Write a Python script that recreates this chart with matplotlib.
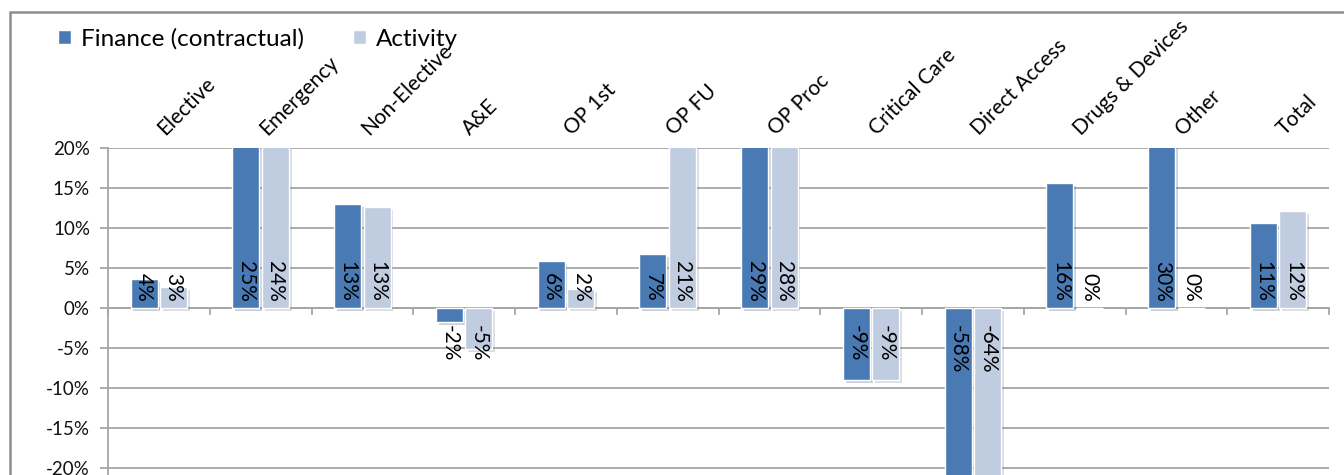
import matplotlib.pyplot as plt
import matplotlib.patheffects as pe
from matplotlib.patches import Rectangle
import numpy as np

plt.rcParams['font.family'] = ['Lato', 'DejaVu Sans']

# Variance by point of delivery, % change
categories = ['Elective', 'Emergency', 'Non-Elective', 'A&E', 'OP 1st', 'OP FU',
              'OP Proc', 'Critical Care', 'Direct Access', 'Drugs & Devices', 'Other', 'Total']
finance = [3.6, 25.0, 13.0, -1.8, 5.8, 6.7, 29.0, -9.0, -58.0, 15.6, 30.0, 10.6]
activity = [2.6, 24.0, 12.6, -5.2, 2.3, 21.0, 28.0, -9.0, -64.0, 0.0, 0.0, 12.1]
yticks = [-20, -15, -10, -5, 0, 5, 10, 15, 20]

finance_col = '#4a7ab4'
activity_col = '#c0cce0'
grid_col = '#a6a6a6'

fig = plt.figure(figsize=(13.44, 4.75), dpi=100)

# chart frame (left and top edges show)
fig.patches.append(Rectangle((10 / 1344, -0.1), 1.2, 1.1 - 12 / 475,
                             transform=fig.transFigure, fill=False,
                             edgecolor='#8c8c8c', linewidth=1.8))

ax = fig.add_axes([108 / 1344, 0.0, (1329 - 108) / 1344, 327.2 / 475])

x = np.arange(len(categories))
w = 0.265
shadow = [pe.SimplePatchShadow(offset=(2, -2), alpha=0.25, rho=0.6), pe.Normal()]

b1 = ax.bar(x - w / 2 - 0.012, finance, w, color=finance_col, edgecolor='white',
            linewidth=1.0, zorder=3)
b2 = ax.bar(x + w / 2 + 0.012, activity, w, color=activity_col, edgecolor='white',
            linewidth=1.0, zorder=3)
for b in list(b1) + list(b2):
    b.set_path_effects(shadow)

# value labels, rotated, sitting at the base of each bar
for xs, vals in [(x - w / 2 - 0.012, finance), (x + w / 2 + 0.012, activity)]:
    for xi, v in zip(xs, vals):
        lbl = '%d%%' % int(np.floor(abs(v) + 0.5) * np.sign(v))
        if v >= 0:
            ax.text(xi, 0.8, lbl, rotation=270, ha='center', va='bottom',
                    fontsize=15, color='black', zorder=5)
        else:
            ax.text(xi, -2.2, lbl, rotation=270, ha='center', va='top',
                    fontsize=15, color='black', zorder=5)

ax.set_xlim(-0.5, len(categories) - 0.5)
ax.set_ylim(-20.9, 20)
ax.set_yticks(yticks)
ax.set_yticklabels(['%d%%' % t for t in yticks], fontsize=13.5, color='#111111')
ax.yaxis.grid(True, color=grid_col, linewidth=1.3, zorder=0)
ax.tick_params(axis='y', length=6, color=grid_col, width=1.3, pad=7)

ax.set_xticks([])
for s in ['top', 'right', 'bottom']:
    ax.spines[s].set_visible(False)
ax.spines['left'].set_color(grid_col)
ax.spines['left'].set_linewidth(1.3)

# category axis through zero with ticks at the boundaries
ax.axhline(0, color=grid_col, linewidth=1.3, zorder=2)
for xb in np.arange(-0.5, len(categories), 1.0):
    ax.plot([xb, xb], [0, -0.8], color=grid_col, linewidth=1.3, zorder=2,
            clip_on=False)

# category names above the plot
for xi, c in zip(x, categories):
    ax.text(xi + 0.02, 22.0, c, rotation=45, rotation_mode='anchor',
            ha='left', va='center', fontsize=15, color='black', clip_on=False)

# legend
h1 = Rectangle((0, 0), 1, 1, facecolor=finance_col, edgecolor='white')
h2 = Rectangle((0, 0), 1, 1, facecolor=activity_col, edgecolor='white')
fig.legend([h1, h2], ['Finance (contractual)', 'Activity'], loc='upper left',
           bbox_to_anchor=(58 / 1344, 1 - 28 / 475), ncol=2, frameon=False,
           fontsize=17.5, handlelength=0.55, handleheight=0.55, handletextpad=0.4,
           columnspacing=2.0, borderaxespad=0, borderpad=0)

fig.savefig('out.png', dpi=100)
